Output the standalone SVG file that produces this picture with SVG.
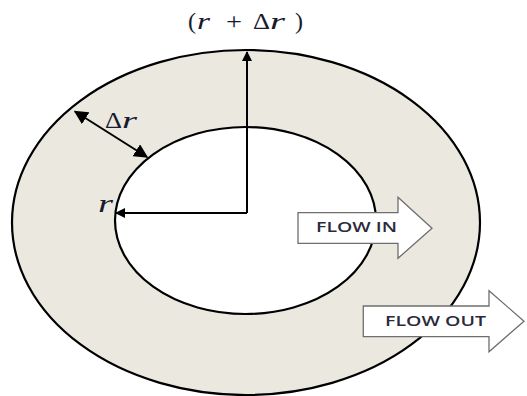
<svg xmlns="http://www.w3.org/2000/svg" width="527" height="396" viewBox="0 0 527 396">
<defs>
<style>
.ring{stroke:#000;stroke-width:2.2}
.rad{stroke:#000;stroke-width:2;fill:none}
.flow{fill:#fff;stroke:#6e6e6e;stroke-width:1.3}
.math{font-family:"Liberation Serif","DejaVu Serif",serif;fill:#1a1a2e}
.it{font-style:italic}
.lbl{font-family:"Open Sans","Liberation Sans",sans-serif;font-weight:600;fill:#2a2a3a}
</style>
<marker id="ah" viewBox="0 0 10 10" refX="9" refY="5" markerWidth="5" markerHeight="5" orient="auto-start-reverse" markerUnits="strokeWidth">
<path d="M0,0 L10,5 L0,10 Z" fill="#000"/>
</marker>
<marker id="ah2" viewBox="0 0 10 10" refX="9" refY="5" markerWidth="7" markerHeight="7" orient="auto-start-reverse" markerUnits="strokeWidth">
<path d="M0,0 L10,5 L0,10 Z" fill="#000"/>
</marker>
</defs>
<rect width="527" height="396" fill="#fff"/>
<g id="outer"><ellipse class="ring" cx="246" cy="222.5" rx="234" ry="172.5" fill="#ebe9df"/></g>
<g id="inner"><ellipse class="ring" cx="245.5" cy="220.5" rx="130.5" ry="93.5" fill="#fff"/></g>
<g id="connectors">
<line class="rad" x1="247" y1="213" x2="247" y2="52" marker-end="url(#ah)"/>
<line class="rad" x1="247" y1="213" x2="116" y2="213" marker-end="url(#ah)"/>
<line class="rad" stroke-width="1.3" x1="75" y1="111.5" x2="147" y2="157" marker-start="url(#ah2)" marker-end="url(#ah2)"/>
</g>
<g id="label-top" class="math" font-size="24">
<text x="188" y="29" textLength="8" lengthAdjust="spacingAndGlyphs">(</text>
<text x="197" y="29" class="it" textLength="13" lengthAdjust="spacingAndGlyphs">r</text>
<text x="226" y="29" textLength="16" lengthAdjust="spacingAndGlyphs">+</text>
<text x="253" y="29" textLength="17" lengthAdjust="spacingAndGlyphs">Δ</text>
<text x="270" y="29" class="it" textLength="15" lengthAdjust="spacingAndGlyphs">r</text>
<text x="295" y="29" textLength="8" lengthAdjust="spacingAndGlyphs">)</text>
</g>
<g id="label-dr" class="math" font-size="23">
<text x="105" y="128" textLength="17" lengthAdjust="spacingAndGlyphs">Δ</text>
<text x="122" y="128" class="it" textLength="15" lengthAdjust="spacingAndGlyphs">r</text>
</g>
<g id="label-r"><text class="math it" x="98" y="212" font-size="25" textLength="15" lengthAdjust="spacingAndGlyphs">r</text></g>
<g id="flow-in">
<path class="flow" d="M298,212.7 H398 V197.3 L432,228.3 L398,258.3 V243.3 H298 Z"/>
<text class="lbl" x="316" y="232" font-size="14" textLength="81" lengthAdjust="spacingAndGlyphs">FLOW IN</text>
</g>
<g id="flow-out">
<path class="flow" d="M363.3,306 H489 V290.7 L524,321.2 L489,351.7 V336.7 H363.3 Z"/>
<text class="lbl" x="385" y="325.5" font-size="14" textLength="101" lengthAdjust="spacingAndGlyphs">FLOW OUT</text>
</g>
</svg>
